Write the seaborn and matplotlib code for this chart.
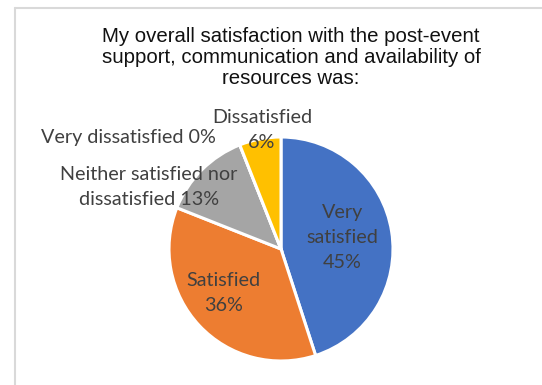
import matplotlib
matplotlib.use("Agg")
import matplotlib.pyplot as plt
from matplotlib.lines import Line2D
import seaborn as sns

# ---- data ----
categories = ["Very satisfied", "Satisfied", "Neither satisfied nor\ndissatisfied",
              "Very dissatisfied", "Dissatisfied"]
values = [45, 36, 13, 0, 6]
pct_labels = ["45%", "36%", "13%", "0%", "6%"]
title = "My overall satisfaction with the post-event\nsupport, communication and availability of\nresources was:"

# ---- style ----
colors = ["#4472C4", "#ED7D31", "#A5A5A5", "#7F7F7F", "#FFC000"]
label_text = ["Very\nsatisfied\n45%", "Satisfied\n36%",
              "Neither satisfied nor\ndissatisfied 13%",
              "Very dissatisfied 0%", "Dissatisfied\n6%"]
# label positions in units of pie radius (relative to pie centre)
label_pos = [(0.55, 0.10), (-0.51, -0.39), (-1.18, 0.55), (-1.36, 1.00), (-0.17, 1.06)]

sns.set_theme(style="white")
plt.rcParams["font.family"] = ["Lato", "DejaVu Sans"]

W, H = 542, 385
fig = plt.figure(figsize=(W / 100, H / 100), dpi=100)
cx, cy, R = 281, 249, 112
ax = fig.add_axes([0, 0, 1, 1])
ax.pie(values, colors=colors, startangle=90, counterclock=False, radius=1,
       wedgeprops=dict(edgecolor="white", linewidth=2.2))
ax.set_xlim(-cx / R, (W - cx) / R)
ax.set_ylim(-(H - cy) / R, cy / R)
ax.set_aspect("auto")
ax.axis("off")

for txt, (px, py) in zip(label_text, label_pos):
    ax.text(px, py, txt, ha="center", va="center", fontsize=14.2,
            color="#404040", linespacing=1.58)

fig.text(291 / W, 1 - 27 / H, title, ha="center", va="top", fontsize=14.7,
         family=["Liberation Sans", "DejaVu Sans"], color="#111111", linespacing=1.12)

# chart frame
fig.add_artist(Line2D([14.5 / W, 14.5 / W], [0, 1 - 8 / H], color="#D9D9D9", lw=1.5))
fig.add_artist(Line2D([14.5 / W, 1], [1 - 8 / H, 1 - 8 / H], color="#D9D9D9", lw=1.5))

fig.savefig("out.png", dpi=100)
